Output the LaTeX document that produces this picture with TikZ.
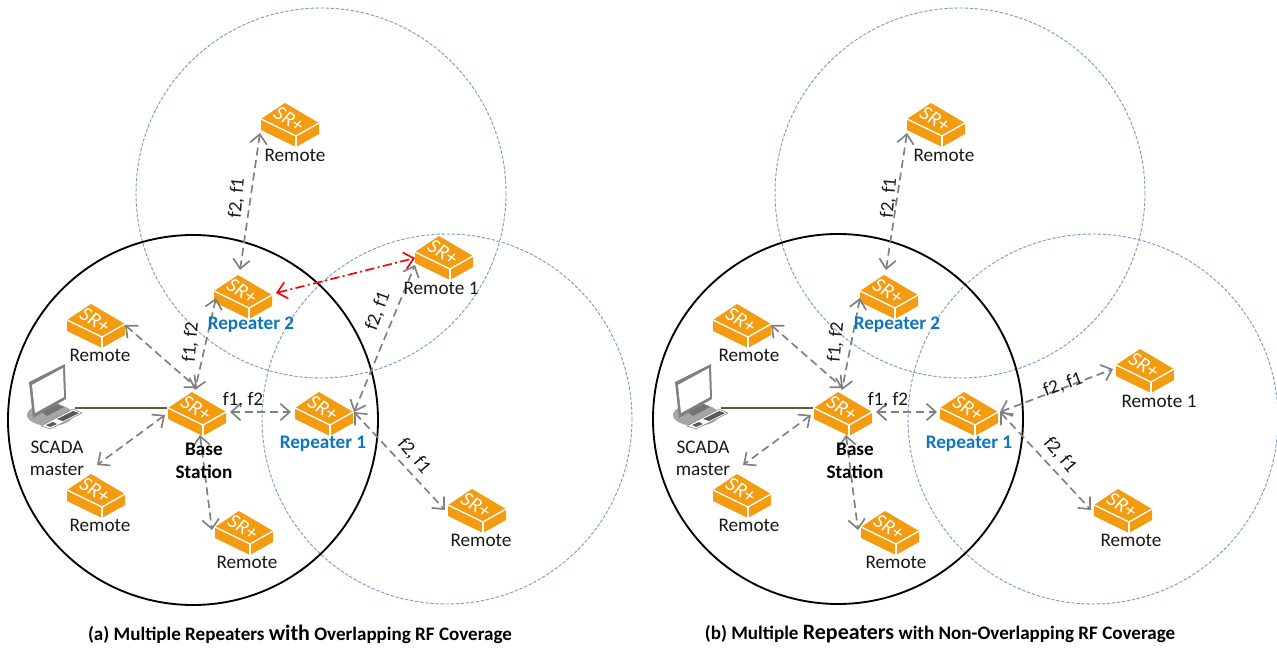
\documentclass[tikz,border=0pt]{standalone}
\usepackage{fontspec}
\setmainfont{Carlito}
\usetikzlibrary{arrows.meta}
\definecolor{srorange}{HTML}{F39C12}
\definecolor{linkgrey}{HTML}{808080}
\definecolor{repblue}{HTML}{0F75BD}
\definecolor{cellblue}{HTML}{7C9CCB}
\definecolor{wire}{HTML}{5E5A3A}
\tikzset{
  x=0.75pt,y=-0.75pt,
  iconbox/.style={inner sep=0,minimum width=43.5pt,minimum height=33pt},
  link/.style={draw=linkgrey,line width=1.25pt,dash pattern=on 6pt off 3.5pt,{Straight Barb[length=7pt,width=12.5pt]}-{Straight Barb[length=7pt,width=12.5pt]}},
  overlap/.style={draw=red,line width=1.25pt,dash pattern=on 7pt off 2.5pt on 1.5pt off 2.5pt,{Straight Barb[length=7pt,width=12.5pt]}-{Straight Barb[length=7pt,width=12.5pt]}},
  txt/.style={inner sep=0,font=\fontsize{14.4}{16}\selectfont,text=black!90},
  rep/.style={txt,font=\fontsize{14.4}{16}\selectfont\bfseries,text=repblue},
  bst/.style={txt,font=\fontsize{14.4}{16}\selectfont\bfseries,text=black},
  captxt/.style={inner sep=0,font=\fontsize{14.3}{16}\selectfont\bfseries,text=black},
  cell/.style={draw=cellblue,line width=0.7pt,dash pattern=on 2.5pt off 1.3pt},
  home/.style={draw=black,line width=1.4pt},
  srbox/.pic={
    \fill[srorange] (-29,-4) -- (-5,-20) -- (29,0) -- (29,11) -- (6,24) -- (-29,7) -- cycle;
    \draw[white,line width=1pt,line join=round] (-29,-4) -- (6,13) -- (29,0);
    \draw[white,line width=1pt] (6,13) -- (6,24);
    \node[rotate=-33,text=white,inner sep=0,font=\fontsize{15.5}{16}\selectfont\itshape] at (-1,-4) {SR+};
  },
  laptop/.pic={
    \fill[black!35] (0,0) ellipse (23 and 11);
    \fill[black!50] (-21,-33) -- (15,-51) -- (16,-16) -- (-17,3) -- cycle;
    \fill[white] (-18,-30) -- (13,-47) -- (14,-18) -- (-15,-2) -- cycle;
    \fill[black!55] (-8,-3) -- (8,-11) -- (14,-8) -- (-3,1) -- cycle;
    \fill[white] (-9,11) -- (23,-6) -- (32,-2) -- (0,14) -- cycle;
    \fill[black!65] (7,4) -- (23,-4) -- (29,-2) -- (13,6) -- cycle;
    \fill[black!65] (-4,10) -- (3,7) -- (7,9) -- (0,12) -- cycle;
    \draw[black!50,line width=0.4pt] (-9,11) -- (23,-6) -- (32,-2) -- (0,14) -- cycle;
  }
}
\newcommand\srn[2]{\node[iconbox] (#1) at (#2) {}; \pic at (#1.center) {srbox};}
\begin{document}
\begin{tikzpicture}
\useasboundingbox (0,0) rectangle (1277,648);
\fill[white] (0,0) rectangle (1277,648);
% ---- cells
\draw[cell] (321,193) circle [radius=185];
\draw[cell] (447,419) circle [radius=185];
\draw[home] (193,420) circle [radius=185];
\draw[cell] (960,193) circle [radius=185];
\draw[cell] (1093,419) circle [radius=185];
\draw[home] (838,419) circle [radius=185];
% ---- panel (a) devices
\srn{atop}{290,123}
\srn{arp}{243,295}
\srn{arem}{444,256}
\srn{arl}{96,324}
\srn{abs}{197,412}
\srn{arq}{324,412}
\srn{abl}{96,494}
\srn{abm}{244,531}
\srn{abr}{477,509}
\node[iconbox,minimum width=36pt,minimum height=40pt] (alap) at (50,392) {};
\pic at (50,415) {laptop};
% ---- panel (b) devices
\srn{btop}{936,123}
\srn{brp}{889,295}
\srn{brem}{1145,369}
\srn{brl}{742,324}
\srn{bbs}{843,412}
\srn{brq}{969,412}
\srn{bbl}{742,494}
\srn{bbm}{890,531}
\srn{bbr}{1123,509}
\node[iconbox,minimum width=36pt,minimum height=40pt] (blap) at (696,392) {};
\pic at (696,415) {laptop};
% ---- wires
\draw[wire,line width=0.8pt] ([shift={(25,16)}]alap.center) -- ([shift={(-30,-4)}]abs.center);
\draw[wire,line width=0.8pt] ([shift={(25,16)}]blap.center) -- ([shift={(-30,-4)}]bbs.center);
% ---- panel (a) links
\path[link] ([shift={(-30,10)}]atop.center) -- ([shift={(-3,-25)}]arp.center);
\path[link] ([shift={(-27,3)}]arp.center) -- ([shift={(-2,-22)}]abs.center);
\path[link] ([shift={(29,1)}]arl.center) -- ([shift={(0,-24)}]abs.center);
\path[link] ([shift={(33,0)}]abs.center) -- ([shift={(-33,0)}]arq.center);
\path[link] ([shift={(-32,3)}]abs.center) -- ([shift={(1,-29)}]abl.center);
\path[link] ([shift={(3,23)}]abs.center) -- ([shift={(-32,-1)}]abm.center);
\path[link] ([shift={(30,0)}]arq.center) -- ([shift={(-29,9)}]arem.center);
\path[link] ([shift={(30,0)}]arq.center) -- ([shift={(-32,1)}]abr.center);
\path[overlap] ([shift={(33,-2)}]arp.center) -- ([shift={(-29,2)}]arem.center);
% ---- panel (b) links
\path[link] ([shift={(-29,10)}]btop.center) -- ([shift={(-3,-25)}]brp.center);
\path[link] ([shift={(-29,3)}]brp.center) -- ([shift={(-1,-22)}]bbs.center);
\path[link] ([shift={(29,1)}]brl.center) -- ([shift={(0,-24)}]bbs.center);
\path[link] ([shift={(33,0)}]bbs.center) -- ([shift={(-32,0)}]brq.center);
\path[link] ([shift={(-32,3)}]bbs.center) -- ([shift={(1,-29)}]bbl.center);
\path[link] ([shift={(3,23)}]bbs.center) -- ([shift={(-32,-1)}]bbm.center);
\path[link] ([shift={(31,0)}]brq.center) -- ([shift={(-32,0)}]brem.center);
\path[link] ([shift={(31,0)}]brq.center) -- ([shift={(-32,1)}]bbr.center);
% ---- panel (a) labels
\node[txt] (l1) at (295,155) {Remote};
\node[rep] (l2) at (251,325) {Repeater 2};
\node[txt] (l3) at (441,288) {Remote 1};
\node[txt] (l4) at (100,355) {Remote};
\node[bst] (l5) at (204,449) {Base};
\node[bst] (l6) at (204,472) {Station};
\node[rep] (l7) at (323,444) {Repeater 1};
\node[txt] (l8) at (100,525) {Remote};
\node[txt] (l9) at (247,562) {Remote};
\node[txt] (l10) at (481,540) {Remote};
\node[txt] (l11) at (57,447) {SCADA};
\node[txt] (l12) at (57,469) {master};
\node[txt] (l13) at (243,400) {f1, f2};
\node[txt,rotate=85] (l14) at (191,342) {f1, f2};
\node[txt,rotate=85] (l15) at (237,198) {f2, f1};
\node[txt,rotate=70] (l16) at (378,311) {f2, f1};
\node[txt,rotate=-50] (l17) at (414,456) {f2, f1};
% ---- panel (b) labels
\node[txt] (m1) at (944,155) {Remote};
\node[rep] (m2) at (897,325) {Repeater 2};
\node[txt] (m3) at (1159,401) {Remote 1};
\node[txt] (m4) at (749,355) {Remote};
\node[bst] (m5) at (855,449) {Base};
\node[bst] (m6) at (855,472) {Station};
\node[rep] (m7) at (969,444) {Repeater 1};
\node[txt] (m8) at (749,525) {Remote};
\node[txt] (m9) at (896,562) {Remote};
\node[txt] (m10) at (1131,540) {Remote};
\node[txt] (m11) at (703,447) {SCADA};
\node[txt] (m12) at (703,469) {master};
\node[txt] (m13) at (888,400) {f1, f2};
\node[txt,rotate=85] (m14) at (836,342) {f1, f2};
\node[txt,rotate=85] (m15) at (889,198) {f2, f1};
\node[txt,rotate=20] (m16) at (1063,385) {f2, f1};
\node[txt,rotate=-50] (m17) at (1060,455) {f2, f1};
% ---- captions
\node[captxt] (c1) at (300,634) {(a) Multiple Repeaters {\fontsize{16.5}{16}\selectfont with} Overlapping RF Coverage};
\node[captxt] (c2) at (940,634) {(b) Multiple {\fontsize{16.5}{16}\selectfont Repeaters} with Non-Overlapping RF Coverage};
\end{tikzpicture}
\end{document}
